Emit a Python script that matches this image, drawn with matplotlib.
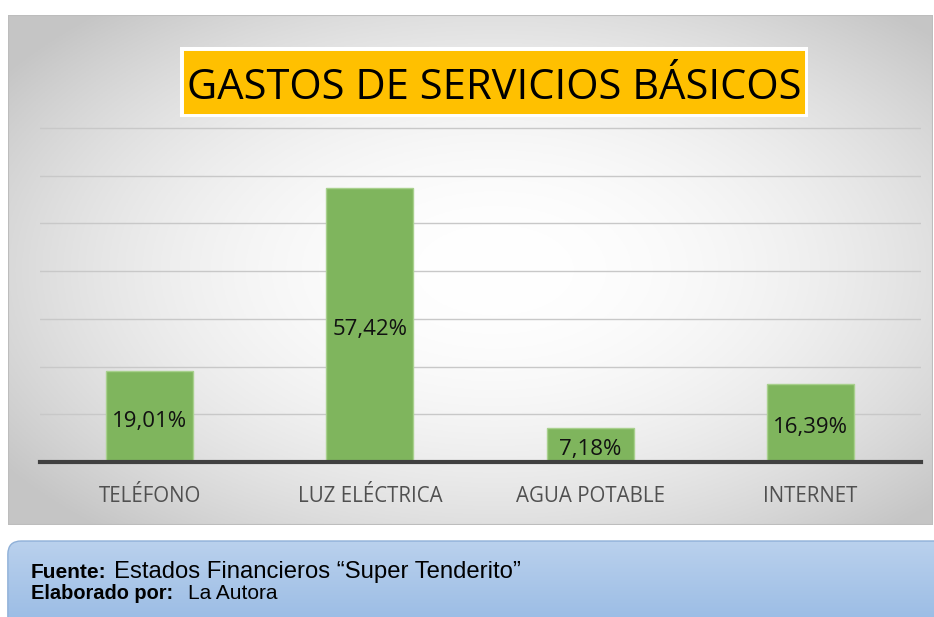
import numpy as np
import matplotlib
matplotlib.use("Agg")
import matplotlib.pyplot as plt
from matplotlib.patches import Rectangle, FancyBboxPatch

categories = ["TELÉFONO", "LUZ ELÉCTRICA", "AGUA POTABLE", "INTERNET"]
values = [19.01, 57.42, 7.18, 16.39]
labels = ["19,01%", "57,42%", "7,18%", "16,39%"]
title = "GASTOS DE SERVICIOS BÁSICOS"

W, H = 934, 617
fig = plt.figure(figsize=(W / 100, H / 100), dpi=100)
fig.patch.set_facecolor("white")

def fr(x0, y0, x1, y1):
    return [x0 / W, 1 - y1 / H, (x1 - x0) / W, (y1 - y0) / H]

# chart frame with radial gradient
bg = fig.add_axes(fr(8, 15, 933, 525))
bg.set_xlim(0, 1); bg.set_ylim(0, 1); bg.axis("off")
nx, ny = 400, 220
xx, yy = np.meshgrid(np.linspace(8, 933, nx), np.linspace(15, 525, ny))
r = np.sqrt(((xx - 495) / 520) ** 2 + ((yy - 270) / 300) ** 2)
g = np.clip(1 - 0.17 * r ** 2, 0.775, 1)
img = np.dstack([g, g, g])
bg.imshow(img, extent=[0, 1, 0, 1], aspect="auto", origin="upper", zorder=0)
bg.add_patch(Rectangle((0, 0), 1, 1, fill=False, edgecolor="#bdbdbd", lw=1.5, zorder=2))

# plot area
y0px, ytop = 462, 90
ymax = (y0px - ytop) / 4.77
ax = fig.add_axes(fr(39.5, ytop, 920.5, y0px))
ax.set_facecolor("none")
ax.set_xlim(-0.5, 3.5)
ax.set_ylim(0, ymax)
for v in range(10, 80, 10):
    ax.axhline(v, color="#c8c8c8", lw=1.0, zorder=1)
x = np.arange(len(categories))
ax.bar(x, values, width=0.395, color="#7fb55d", edgecolor="#a8d08d", lw=1.0, zorder=2)
ax.axhline(0, color="#404040", lw=3, zorder=3, clip_on=False)
for xi, v, lab in zip(x, values, labels):
    ax.annotate(lab, (xi, v / 2), xytext=(0, -3.5), textcoords="offset points",
                ha="center", va="center", fontsize=16,
                family="Open Sans", color="#111111", zorder=4)
for s in ax.spines.values():
    s.set_visible(False)
ax.set_yticks([])
ax.set_xticks(x)
ax.set_xticklabels(categories, fontsize=14.8, family="Open Sans", color="#505050")
ax.tick_params(axis="x", length=0, pad=17)

# title box
tb = fig.add_axes(fr(180, 47, 808, 117))
tb.set_xlim(0, 1); tb.set_ylim(0, 1); tb.axis("off")
tb.add_patch(Rectangle((0, 0), 1, 1, facecolor="#ffc000", edgecolor="white", lw=5))
fig.text(494 / W, 1 - 99 / H, title, ha="center", va="baseline", fontsize=30,
         family="Open Sans", color="black")

# source box
sb = fig.add_axes(fr(5, 540, 960, 640))
sb.set_xlim(0, 1); sb.set_ylim(0, 1); sb.axis("off")
grad = np.linspace(0, 1, 100)[:, None]
c_top = np.array([0.73, 0.82, 0.93]); c_bot = np.array([0.58, 0.72, 0.89])
gimg = c_top[None, None, :] * (1 - grad[..., None]) + c_bot[None, None, :] * grad[..., None]
gimg = np.repeat(gimg, 2, axis=1)
im = sb.imshow(gimg, extent=[0, 1, 0, 1], aspect="auto", origin="upper")
patch = FancyBboxPatch((0.003, 0.0), 1.2, 0.99, boxstyle="round,pad=0,rounding_size=0.014",
                       mutation_aspect=9.5, facecolor="none", edgecolor="#8fb0d8", lw=1,
                       transform=sb.transAxes)
sb.add_patch(patch)
im.set_clip_path(patch)
sb.set_xlim(0, 1)
fam = "Liberation Sans"
fig.text(31 / W, 1 - 578 / H, "Fuente:", fontsize=15, weight="bold", family=fam,
         va="baseline", ha="left")
fig.text(114 / W, 1 - 578 / H, "Estados Financieros “Super Tenderito”", fontsize=17.2,
         family=fam, va="baseline", ha="left")
fig.text(31 / W, 1 - 599 / H, "Elaborado por:", fontsize=14.4, weight="bold", family=fam,
         va="baseline", ha="left")
fig.text(188 / W, 1 - 599 / H, "La Autora", fontsize=15, family=fam,
         va="baseline", ha="left")

fig.savefig("out.png", dpi=100)
